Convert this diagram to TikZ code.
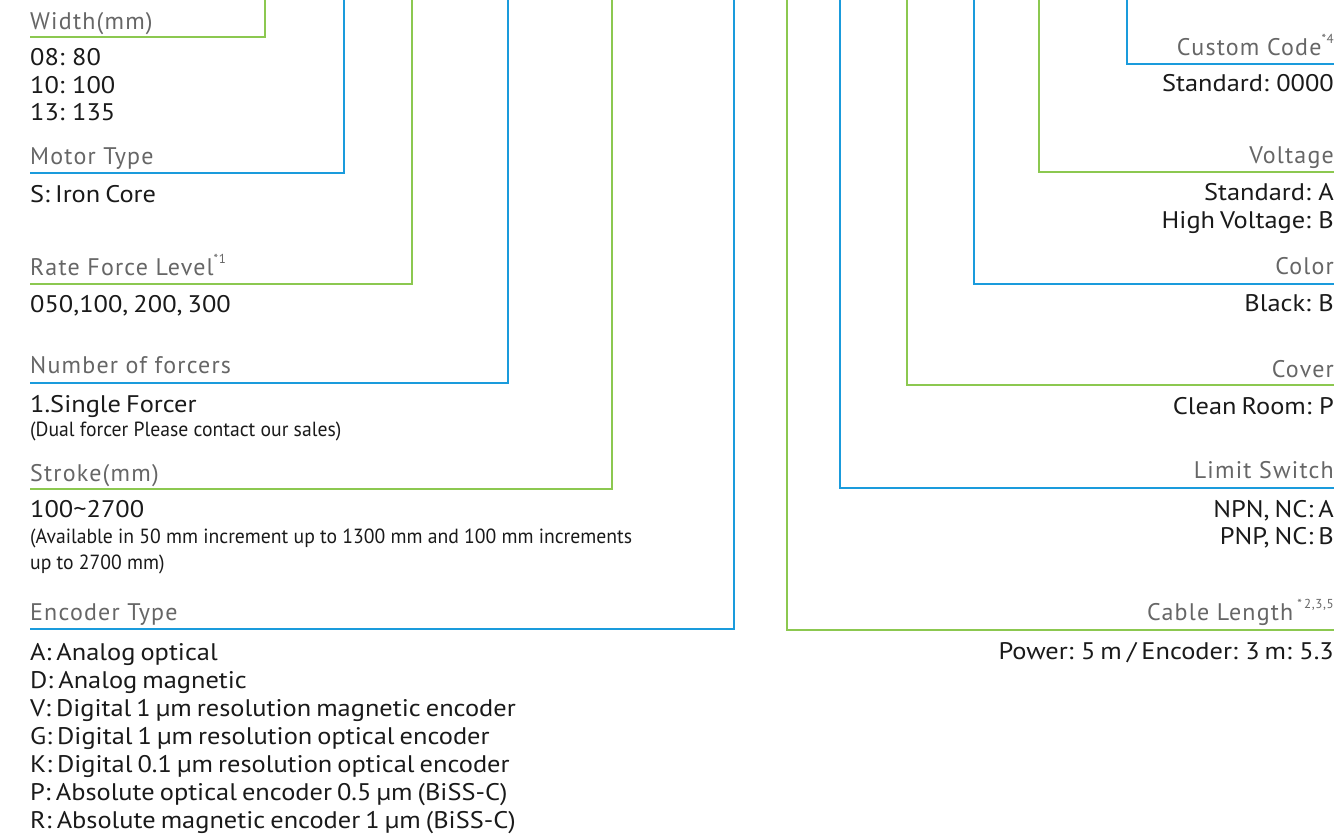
\documentclass[tikz,border=0pt]{standalone}
\usepackage{fontspec}
\setmainfont{PT Sans}
\newfontfamily\valfont[FakeStretch=1.1,WordSpace=0.72]{PT Sans}
\newfontfamily\labfont[LetterSpace=5]{PT Sans}
\newfontfamily\narrowfont[FakeStretch=0.96]{PT Sans}
\definecolor{lgreen}{HTML}{8CC850}
\definecolor{lblue}{HTML}{1A9BDC}
\definecolor{labgray}{HTML}{666666}
\definecolor{txt}{HTML}{1A1A1A}
\tikzset{
  gline/.style={draw=lgreen, line width=2pt},
  bline/.style={draw=lblue, line width=2pt},
  lab/.style={inner sep=0pt, text=labgray, font=\labfont\fontsize{24}{28}\selectfont},
  val/.style={inner sep=0pt, text=txt, font=\valfont\fontsize{24}{28}\selectfont},
  small/.style={inner sep=0pt, text=txt, font=\narrowfont\fontsize{20.5}{26}\selectfont},
  L/.style={anchor=base west},
  R/.style={anchor=base east},
}
\newcommand{\sups}[1]{\raisebox{0.5em}{\fontsize{13}{13}\selectfont #1}}
\begin{document}
\begin{tikzpicture}[x=1pt,y=-1pt]
\useasboundingbox (0,0) rectangle (1334,836);
% left connectors
\coordinate (gl1) at (265,0); \coordinate (el1) at (30,37);
\coordinate (bl1) at (344,0); \coordinate (el2) at (30,173);
\coordinate (gl2) at (412,0); \coordinate (el3) at (30,284);
\coordinate (bl2) at (508,0); \coordinate (el4) at (30,383);
\coordinate (gl3) at (612,0); \coordinate (el5) at (30,489);
\coordinate (bl3) at (734,0); \coordinate (el6) at (30,629);
\draw[gline] (gl1) |- (el1);
\draw[bline] (bl1) |- (el2);
\draw[gline] (gl2) |- (el3);
\draw[bline] (bl2) |- (el4);
\draw[gline] (gl3) |- (el5);
\draw[bline] (bl3) |- (el6);
% right connectors
\coordinate (gr4) at (787,0); \coordinate (er1) at (1334,630);
\coordinate (br4) at (840,0); \coordinate (er2) at (1334,488);
\coordinate (gr5) at (907,0); \coordinate (er3) at (1334,385);
\coordinate (br5) at (974,0); \coordinate (er4) at (1334,284);
\coordinate (gr6) at (1039,0); \coordinate (er5) at (1334,172);
\coordinate (br6) at (1127,0); \coordinate (er6) at (1334,64);
\draw[gline] (gr4) |- (er1);
\draw[bline] (br4) |- (er2);
\draw[gline] (gr5) |- (er3);
\draw[bline] (br5) |- (er4);
\draw[gline] (gr6) |- (er5);
\draw[bline] (br6) |- (er6);
% left texts
\node[lab,L] (width) at (30,29) {Width(mm)};
\node[val,L] (w1) at (30,65) {08: 80};
\node[val,L] (w2) at (30,93) {10: 100};
\node[val,L] (w3) at (30,120) {13: 135};
\node[lab,L] (motor) at (30,164) {Motor Type};
\node[val,L] (m1) at (30,202) {S: Iron Core};
\node[lab,L] (rate) at (30,275) {Rate Force Level\sups{*1}};
\node[val,L] (r1) at (30,312) {050,100, 200, 300};
\node[lab,L] (num) at (30,373) {Number of forcers};
\node[val,L] (n1) at (30,412) {1.Single Forcer};
\node[small,L] (n2) at (30,436) {(Dual forcer Please contact our sales)};
\node[lab,L] (stroke) at (30,481) {Stroke(mm)};
\node[val,L] (s1) at (30,517) {100\textasciitilde2700};
\node[small,L] (s2) at (30,543) {(Available in 50 mm increment up to 1300 mm and 100 mm increments};
\node[small,L] (s3) at (30,569) {up to 2700 mm)};
\node[lab,L] (enc) at (30,620) {Encoder Type};
\node[val,L] (e1) at (30,660) {A: Analog optical};
\node[val,L] (e2) at (30,688) {D: Analog magnetic};
\node[val,L] (e3) at (30,716) {V: Digital 1 µm resolution magnetic encoder};
\node[val,L] (e4) at (30,744) {G: Digital 1 µm resolution optical encoder};
\node[val,L] (e5) at (30,772) {K: Digital 0.1 µm resolution optical encoder};
\node[val,L] (e6) at (30,800) {P: Absolute optical encoder 0.5 µm (BiSS-C)};
\node[val,L] (e7) at (30,828) {R: Absolute magnetic encoder 1 µm (BiSS-C)};
% right texts
\node[lab,R] (custom) at (1334,55) {Custom Code\sups{*4}};
\node[val,R] (c1) at (1334,91) {Standard: 0000};
\node[lab,R] (volt) at (1334,163) {Voltage};
\node[val,R] (v1) at (1334,200) {Standard: A};
\node[val,R] (v2) at (1334,228) {High Voltage: B};
\node[lab,R] (color) at (1334,274) {Color};
\node[val,R] (co1) at (1334,311) {Black: B};
\node[lab,R] (cover) at (1334,377) {Cover};
\node[val,R] (cv1) at (1334,414) {Clean Room: P};
\node[lab,R] (limit) at (1334,478) {Limit Switch};
\node[val,R] (l1) at (1334,517) {NPN, NC: A};
\node[val,R] (l2) at (1334,544) {PNP, NC: B};
\node[lab,R] (cable) at (1334,620) {Cable Length\,\sups{*\,2,3,5}};
\node[val,R] (cb1) at (1334,659) {Power: 5 m / Encoder: 3 m: 5.3};
\end{tikzpicture}
\end{document}
